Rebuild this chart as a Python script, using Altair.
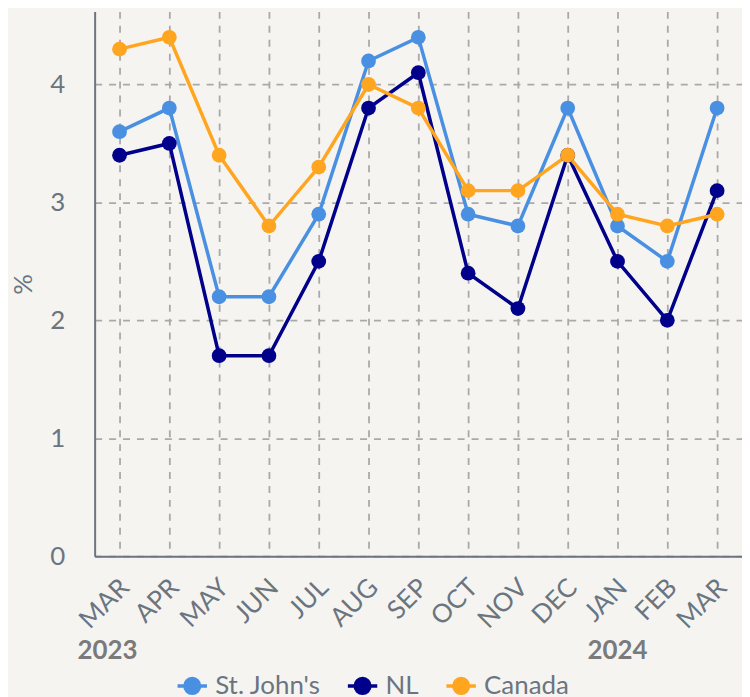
import altair as alt
import pandas as pd

months = ["MAR", "APR", "MAY", "JUN", "JUL", "AUG", "SEP", "OCT", "NOV", "DEC", "JAN", "FEB", "MAR"]
years = [2023] * 10 + [2024] * 3
st_johns = [3.6, 3.8, 2.2, 2.2, 2.9, 4.2, 4.4, 2.9, 2.8, 3.8, 2.8, 2.5, 3.8]
nl = [3.4, 3.5, 1.7, 1.7, 2.5, 3.8, 4.1, 2.4, 2.1, 3.4, 2.5, 2.0, 3.1]
canada = [4.3, 4.4, 3.4, 2.8, 3.3, 4.0, 3.8, 3.1, 3.1, 3.4, 2.9, 2.8, 2.9]
series_names = ["St. John's", "NL", "Canada"]
series_colors = ["#4a90e2", "#00008b", "#ffa51f"]

keys = [f"{m} {y}" for m, y in zip(months, years)]
rows = []
for name, vals in zip(series_names, [st_johns, nl, canada]):
    for k, v in zip(keys, vals):
        rows.append({"key": k, "series": name, "value": v})
df = pd.DataFrame(rows)

year_labels = ["2023", "2024"]
year_keys = ["MAR 2023", "JAN 2024"]
year_dx = [-12, 0]

FONT = "Lato"
GRAY = "#6b7580"

x_enc = alt.X("key:N", sort=keys, scale=alt.Scale(type="point", padding=0.5),
              axis=alt.Axis(title=None, labelExpr="slice(datum.label, 0, 3)", labelAngle=-45,
                            labelAlign="right", labelBaseline="middle", labelPadding=27,
                            labelOffset=5))
y_enc = alt.Y("value:Q", scale=alt.Scale(domain=[0, 4.62], nice=False),
              axis=alt.Axis(title="%", values=[0, 1, 2, 3, 4], format="d",
                            titlePadding=13, labelPadding=30))
color_enc = alt.Color("series:N", scale=alt.Scale(domain=series_names, range=series_colors),
                      legend=alt.Legend(title=None, orient="none", direction="horizontal",
                                        legendX=85, legendY=664))

lines = alt.Chart(df).mark_line(strokeWidth=3.5).encode(x=x_enc, y=y_enc, color=color_enc)
points = alt.Chart(df).mark_point(filled=True, size=220, opacity=1).encode(
    x=alt.X("key:N", sort=keys), y="value:Q", color=alt.Color("series:N"))

year_text = alt.layer(*[
    alt.Chart(pd.DataFrame({"key": [k], "label": [lab]})).mark_text(
        fontSize=26, fontWeight="bold", font=FONT, color="#7a7a7a", baseline="middle", dx=dx
    ).encode(x=alt.X("key:N", sort=keys), y=alt.value(642), text="label:N")
    for k, lab, dx in zip(year_keys, year_labels, year_dx)
])

chart = alt.layer(lines, points, year_text).properties(
    width=650, height=547, background="#f5f4f1",
    autosize=alt.AutoSizeParams(type="none"),
    padding={"left": 87, "top": 2, "right": 0, "bottom": 140},
).configure_view(stroke=None).configure_axis(
    labelFontSize=26, labelColor=GRAY, labelFont=FONT,
    titleFontSize=26, titleColor=GRAY, titleFont=FONT, titleFontWeight="normal",
    grid=True, gridDash=[7, 7], gridColor="#a9a9a9", gridWidth=1.8,
    ticks=False, domainColor=GRAY, domainWidth=2,
).configure_axisY(labelFontSize=26).configure_legend(
    labelFontSize=26, labelColor=GRAY, labelFont=FONT,
    symbolType="M-1.6,0L1.6,0M-0.8,0A0.8,0.8,0,1,1,0.8,0A0.8,0.8,0,1,1,-0.8,0Z",
    symbolSize=340, symbolStrokeWidth=3.5, columnPadding=20, labelOffset=10,
)

chart.save("out.html", embed_options={"renderer": "svg", "actions": False})
